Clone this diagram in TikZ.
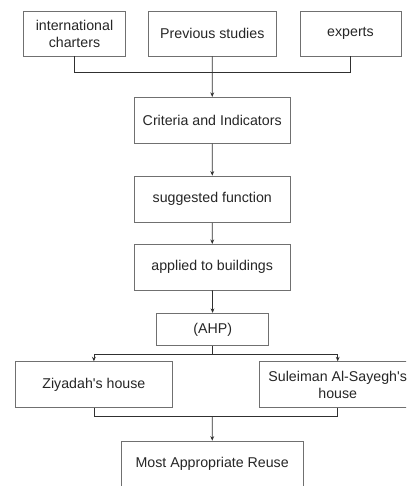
\documentclass[tikz,border=0pt]{standalone}
\usepackage{fontspec}
\setmainfont{Liberation Sans}[Ligatures=TeXOff]
\usetikzlibrary{arrows.meta}
\definecolor{boxline}{HTML}{707070}
\definecolor{conline}{HTML}{303030}
\definecolor{txt}{HTML}{262626}
\begin{document}
\begin{tikzpicture}[x=1pt,y=-1pt,
  box/.style={draw=boxline,line width=0.8pt,rectangle,inner sep=0pt,align=center,
    text=txt,font=\fontsize{14.2}{17.5}\selectfont},
  con/.style={draw=conline,line width=0.8pt},
  arr/.style={con,-{Stealth[length=4.5pt,width=3.8pt]}}]
\useasboundingbox (0,0) rectangle (406,486);
\clip (0,0) rectangle (406,486);
\fill[white] (0,0) rectangle (406,486);
% top row
\node[box,minimum width=102.4pt,minimum height=44.3pt] (ic) at (74.5,33.8) {international\\charters};
\node[box,minimum width=127.3pt,minimum height=44.3pt] (ps) at (212.3,33.8) {Previous studies};
\node[box,minimum width=101pt,minimum height=44.3pt] (ex) at (350.5,33.8) {experts};
% chain
\node[box,minimum width=155.7pt,minimum height=46pt] (ci) at (212.2,120.3) {Criteria and Indicators};
\node[box,minimum width=156.4pt,minimum height=46.3pt] (sf) at (212.3,199.2) {suggested function};
\node[box,minimum width=155.4pt,minimum height=45.7pt] (ab) at (212.2,267.2) {applied to buildings};
\node[box,minimum width=112pt,minimum height=32.4pt] (ahp) at (212.7,329.5) {(AHP)};
\node[box,minimum width=156.3pt,minimum height=46pt] (zh) at (93.9,384.7) {Ziyadah's house};
\node[box,minimum width=156.8pt,minimum height=46pt,font=\fontsize{14.2}{16.5}\selectfont] (sa) at (337.7,384.7) {Suleiman Al-Sayegh's\\house};
\node[box,minimum width=182.3pt,minimum height=46.5pt] (mar) at (212.2,464.3) {Most Appropriate Reuse};
% junctions
\coordinate (j1) at (212.3,72.7);
\coordinate (j2) at (212.5,354.3);
\coordinate (j3) at (212.3,416.7);
% connectors
\draw[con] (ic) |- (j1) -| (ex);
\draw[arr] (ps) -- (ci);
\draw[arr] (ci) -- (sf);
\draw[arr] (sf) -- (ab);
\draw[arr] (ab) -- (ahp);
\draw[con] (ahp) -- (j2);
\draw[arr] (j2) -| (zh);
\draw[arr] (j2) -| (sa);
\draw[con] (zh) |- (j3) -| (sa);
\draw[arr] (j3) -- (mar);
\end{tikzpicture}
\end{document}
